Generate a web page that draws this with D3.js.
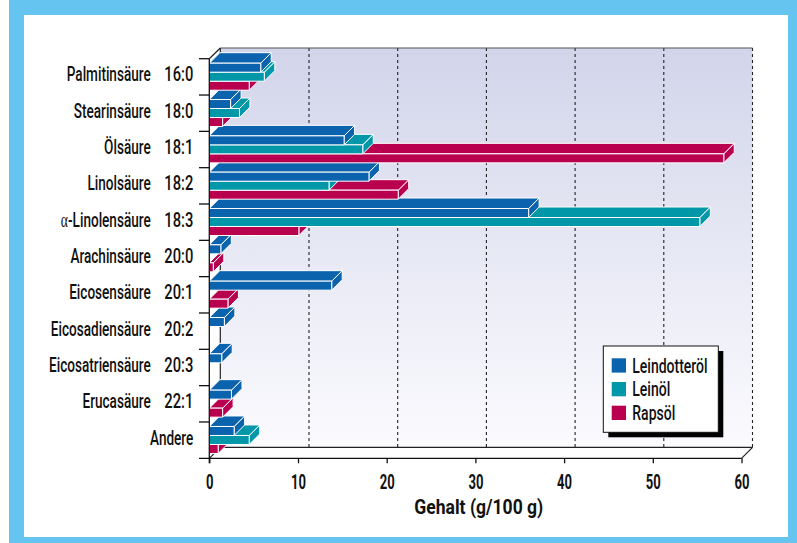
<!DOCTYPE html>
<html><head><meta charset="utf-8">
<script src="https://cdn.jsdelivr.net/npm/d3@7"></script>
<style>html,body{margin:0;padding:0;background:#fff;} svg{display:block}</style>
</head><body><svg id="c" width="797" height="543"></svg>
<script>
// ---- data ----
const categories = ["Palmitinsäure","Stearinsäure","Ölsäure","Linolsäure","α-Linolensäure","Arachinsäure","Eicosensäure","Eicosadiensäure","Eicosatriensäure","Erucasäure","Andere"];
const codes = ["16:0","18:0","18:1","18:2","18:3","20:0","20:1","20:2","20:3","22:1",""];
const seriesNames = ["Leindotteröl","Leinöl","Rapsöl"];
const leindotteroel = [5.8,2.4,15.2,18.0,36.0,1.3,13.8,1.7,1.4,2.5,2.8];
const leinoel =       [6.2,3.4,17.3,13.5,55.3,0,0,0,0,0,4.5];
const rapsoel =       [4.5,1.5,58.0,21.3,10.1,0.45,2.1,0,0,1.5,1.0];
const xTicks = [0,10,20,30,40,50,60];
const axisTitle = "Gehalt (g/100 g)";
const colors = ["#0B63AD","#0098A8","#B8004F"];

// ---- layout ----
const svg = d3.select("#c");
const FONT = "Roboto,'Liberation Sans',sans-serif";
const x = d3.scaleLinear().domain([0,60]).range([209.3,741.5]);
const y = d3.scaleBand().domain(categories).range([58.7,458.3]);
const D = 11;      // wall depth
const BD = 10.5;   // bar depth
const barH = 9;
const barOff = 4.5;
const yBottom = 458.3, yTop = 58.7;

function measure(txt, size, weight) {
  const t = svg.append("text").attr("font-family",FONT).attr("font-size",size).attr("font-weight",weight).text(txt);
  const w = t.node().getComputedTextLength(); t.remove(); return w;
}
// horizontal compression via transform (keeps the anchor point fixed)
function squeeze(sel, s) {
  sel.each(function(){
    const t = d3.select(this);
    const tx = +t.attr("x") || 0, ty = +t.attr("y") || 0;
    t.attr("x",0).attr("y",0).attr("transform",`translate(${tx},${ty}) scale(${s},1)`);
  });
}

// frame
svg.append("rect").attr("x",9).attr("y",0).attr("width",788).attr("height",543).attr("fill","#66C5F0");
svg.append("rect").attr("x",24).attr("y",15).attr("width",764).attr("height",522).attr("fill","#fff");

// gradient for back wall
const defs = svg.append("defs");
const g = defs.append("linearGradient").attr("id","wall").attr("x1",0).attr("y1",0).attr("x2",0).attr("y2",1);
g.append("stop").attr("offset","0%").attr("stop-color","#D2D5EA");
g.append("stop").attr("offset","100%").attr("stop-color","#FBFBFE");

const wx0 = x(0)+D, wx1 = x(60)+D, wy0 = yTop - D + 0.3, wy1 = yBottom - D;
svg.append("rect").attr("x",wx0).attr("y",wy0).attr("width",wx1-wx0).attr("height",wy1-wy0).attr("fill","url(#wall)");

// gridlines on back wall
svg.append("g").selectAll("line").data(xTicks.filter(d=>d>0)).join("line")
  .attr("x1",d=>x(d)+D).attr("x2",d=>x(d)+D).attr("y1",wy0).attr("y2",wy1)
  .attr("stroke","#222").attr("stroke-width",1.1).attr("stroke-dasharray","3,3");

// wall edges
const edge = svg.append("g").attr("stroke","#222").attr("fill","none").attr("stroke-width",1.2);
edge.append("line").attr("x1",wx0).attr("x2",wx1).attr("y1",wy0).attr("y2",wy0).attr("stroke","#555");
edge.append("line").attr("x1",wx0).attr("x2",wx0).attr("y1",wy0).attr("y2",wy1);
edge.append("line").attr("x1",wx0).attr("x2",wx1).attr("y1",wy1).attr("y2",wy1);
edge.append("line").attr("x1",x(0)).attr("x2",wx0).attr("y1",yTop).attr("y2",wy0);
edge.append("line").attr("x1",x(0)).attr("x2",wx0).attr("y1",yBottom).attr("y2",wy1);
edge.append("line").attr("x1",x(60)).attr("x2",wx1).attr("y1",yBottom).attr("y2",wy1);

// bars (drawn bottom-up so upper bars overlay lower ones)
const series = [leindotteroel, leinoel, rapsoel];
const barsG = svg.append("g").attr("stroke","#fff").attr("stroke-width",1).attr("stroke-linejoin","round");
const items = [];
categories.forEach((c,ci)=>{ series.forEach((s,si)=>{ if (s[ci]>0) items.push({c, si, v:s[ci]}); }); });
items.sort((a,b)=> (categories.indexOf(b.c)-categories.indexOf(a.c)) || (b.si-a.si));
items.forEach(d=>{
  const x0 = x(0), x1 = x(d.v);
  const yt = y(d.c) + barOff + barH*d.si, yb = yt + barH;
  const gg = barsG.append("g").attr("fill",colors[d.si]);
  gg.append("polygon").attr("points",[[x1,yt],[x1+BD,yt-BD],[x1+BD,yb-BD],[x1,yb]].join(" "));
  gg.append("polygon").attr("points",[[x0,yt],[x1,yt],[x1+BD,yt-BD],[x0+BD,yt-BD]].join(" "));
  gg.append("rect").attr("x",x0).attr("y",yt).attr("width",x1-x0).attr("height",barH);
});

// front axes
const ax = svg.append("g").attr("stroke","#111").attr("stroke-width",1.3);
ax.append("line").attr("x1",199).attr("x2",x(60)).attr("y1",yBottom).attr("y2",yBottom);
ax.append("line").attr("x1",x(0)).attr("x2",x(0)).attr("y1",yTop).attr("y2",yBottom+5);
ax.selectAll(".yt").data(categories).join("line").attr("class","yt")
  .attr("x1",199).attr("x2",x(0)).attr("y1",d=>y(d)).attr("y2",d=>y(d));

// bottom axis
const xAxis = d3.axisBottom(x).tickValues(xTicks).tickSize(5).tickSizeOuter(0).tickPadding(12).tickFormat(d3.format("d"));
const xg = svg.append("g").attr("transform",`translate(0,${yBottom})`).call(xAxis);
xg.select(".domain").remove();
xg.selectAll(".tick line").attr("stroke","#111").attr("stroke-width",1.3);
xg.selectAll(".tick text").attr("font-family",FONT).attr("font-size",19.5).attr("font-weight","bold").attr("fill","#111");
squeeze(xg.selectAll(".tick text").attr("dy",null).attr("y",5+12+13.8), 15/measure("10",19.5,"bold"));

// axis title
const tt = svg.append("text").attr("x",478.8).attr("y",513.5).attr("text-anchor","middle")
  .attr("font-family",FONT).attr("font-size",20).attr("font-weight","bold").attr("fill","#111").text(axisTitle);
squeeze(tt, 129/measure(axisTitle,20,"bold"));

// category labels
const labG = svg.append("g").attr("font-family",FONT).attr("font-size",21).attr("font-weight",500).attr("fill","#111");
const names = labG.selectAll(".nm").data(categories).join("text").attr("class","nm")
  .attr("x",(d,i)=> codes[i] ? 150.7 : 193.3).attr("y",d=>y(d)+22.7).attr("text-anchor","end")
  .each(function(d){
    const t = d3.select(this);
    if (d.startsWith("α")) {
      t.append("tspan").attr("font-family","'Liberation Serif','DejaVu Serif',serif").attr("font-weight","normal").text("α");
      t.append("tspan").text(d.slice(1));
    } else t.text(d);
  });
squeeze(names, 84/measure("Palmitinsäure",21,500));
const cd = labG.selectAll(".cd").data(codes.filter(c=>c)).join("text").attr("class","cd")
  .attr("x",193.3).attr("y",(d,i)=>y(categories[i])+22.7).attr("text-anchor","end").text(d=>d);
squeeze(cd, 29/measure("16:0",21,500));

// legend
const lg = svg.append("g");
lg.append("rect").attr("x",608.3).attr("y",351).attr("width",115).attr("height",86.3).attr("fill","#000");
lg.append("rect").attr("x",603.3).attr("y",346).attr("width",115).attr("height",86.3).attr("fill","#fff").attr("stroke","#111").attr("stroke-width",1);
const li = lg.selectAll(".li").data(seriesNames).join("g").attr("class","li")
  .attr("transform",(d,i)=>`translate(611.7,${358.3+i*23.7})`);
li.append("rect").attr("width",14.3).attr("height",14.3).attr("fill",(d,i)=>colors[i]);
const lt = li.append("text").attr("x",20.6).attr("y",14.4).attr("font-family",FONT).attr("font-size",20).attr("font-weight",500).attr("fill","#111").text(d=>d);
squeeze(lt, 75.4/measure("Leindotteröl",20,500));
</script></body></html>
